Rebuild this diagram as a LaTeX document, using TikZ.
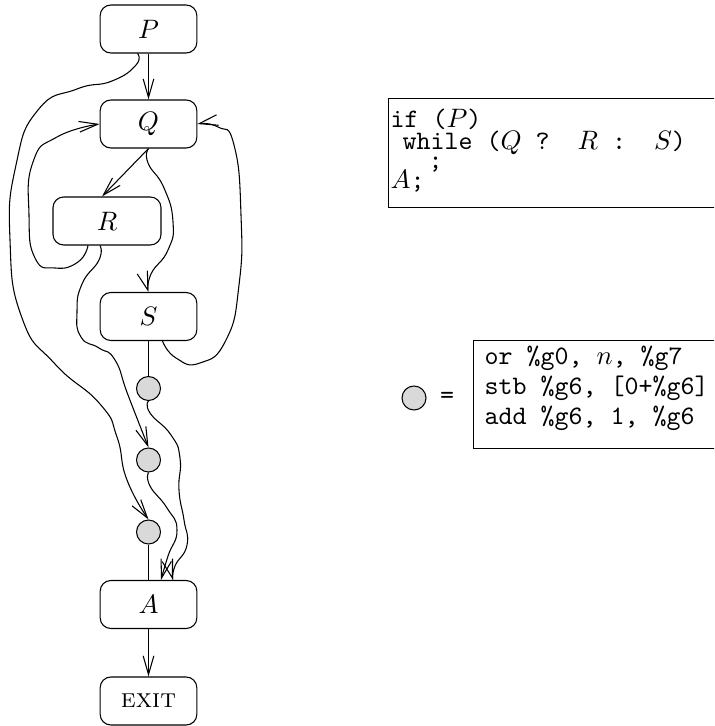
\documentclass[tikz,border=0pt]{standalone}
\usetikzlibrary{arrows.meta,calc}

\tikzset{
  blk/.style={draw, rounded corners=4pt, minimum width=36.25pt,
    minimum height=18pt, inner sep=0pt},
  ctr/.style={circle, draw, fill=gray!30, minimum size=9pt, inner sep=0pt},
  arr/.style={-{Straight Barb[length=7pt,width=4pt]}},
  wavy/.style={smooth, tension=0.9},
  code/.style={anchor=base west, inner sep=0pt, font=\ttfamily},
  frame/.style={draw, anchor=north west, minimum width=150pt, inner sep=0pt},
}

\begin{document}
\begin{tikzpicture}[x=.375pt,y=-.375pt]
\useasboundingbox (0,0) rectangle (714,726);
\clip (0,0) rectangle (714,726);

% blocks
\node[blk] (P) at (148.5,29) {$P$};
\node[blk] (Q) at (148.5,124) {$Q$};
\node[blk,minimum width=40.5pt] (R) at (107,221) {$R$};
\node[blk] (S) at (148.5,316.5) {$S$};
\node[ctr] (C1) at (148.5,388.5) {};
\node[ctr] (C2) at (148.5,460) {};
\node[ctr] (C3) at (148.5,532) {};
\node[blk] (A) at (148.5,604.5) {$A$};
\node[blk] (X) at (148.5,701) {\textsc{exit}};

% edges
\draw[arr] (P) -- (Q);
\draw[arr] (Q.south) -- ($(R.north)+(-5,0)$);
\draw[arr] plot[wavy] coordinates {(Q.south) (148,163) (164,188)
  (173,222) (168,250) (151,274) (S.north)};
\draw[arr] plot[wavy] coordinates {($(R.south)+(-19,0)$) (78,262)
  (55,268) (35,258) (29,215) (33,162) (57,137) (Q.west)};
\draw[arr] plot[wavy] coordinates {($(S.south)+(14,0)$) (176,358)
  (200,363) (226,340) (239,285) (241,215) (234,145) (218,127) (Q.east)};
\draw[arr] plot[wavy] coordinates {($(P.south)+(-11,0)$) (136,65)
  (112,81) (77,89) (38,110) (16,165) (10,240) (22,318) (55,364)
  (100,404) (117,437) (127,480) (C3.north)};
\draw[arr] plot[wavy] coordinates {($(R.south)+(-7,0)$) (99,260)
  (82,284) (77,312) (81,337) (99,348) (115,360) (128,395) (C2.north)};
\draw (S) -- (C1);
\draw (C3) -- (A);
\draw[arr] plot[wavy] coordinates {(C1.south) (150,413) (171,435)
  (180,458) (179,490) (184,520) (187,545) (175,566)
  ($(A.north)+(24.5,0)$)};
\draw[arr] plot[wavy] coordinates {(C2.south) (150,486) (167,508)
  (177,530) (168,556) ($(A.north)+(12.5,0)$)};
\draw[arr] (A) -- (X);

% source
\node[frame,minimum height=40.9pt] (src) at (388,98) {};
\node[code] (s1) at (390,128) {if ($P$)};
\node[code] (s2) at (402,150) {while ($Q$ ?\ \ $R$ :\ \ $S$)};
\node[code] (s3) at (428,169) {;};
\node[code] (s4) at (390,189) {$A$;};

% counter code
\node[ctr] (key) at (414,398) {};
\node[font=\ttfamily] (eq) at (447,398) {=};
\node[frame,minimum height=40.5pt] (ins) at (472.5,340) {};
\node[code] (i1) at (484,364) {or \%g0, $n$, \%g7};
\node[code] (i2) at (484,394) {stb \%g6, [0+\%g6]};
\node[code] (i3) at (484,424) {add \%g6, 1, \%g6};
\end{tikzpicture}
\end{document}
